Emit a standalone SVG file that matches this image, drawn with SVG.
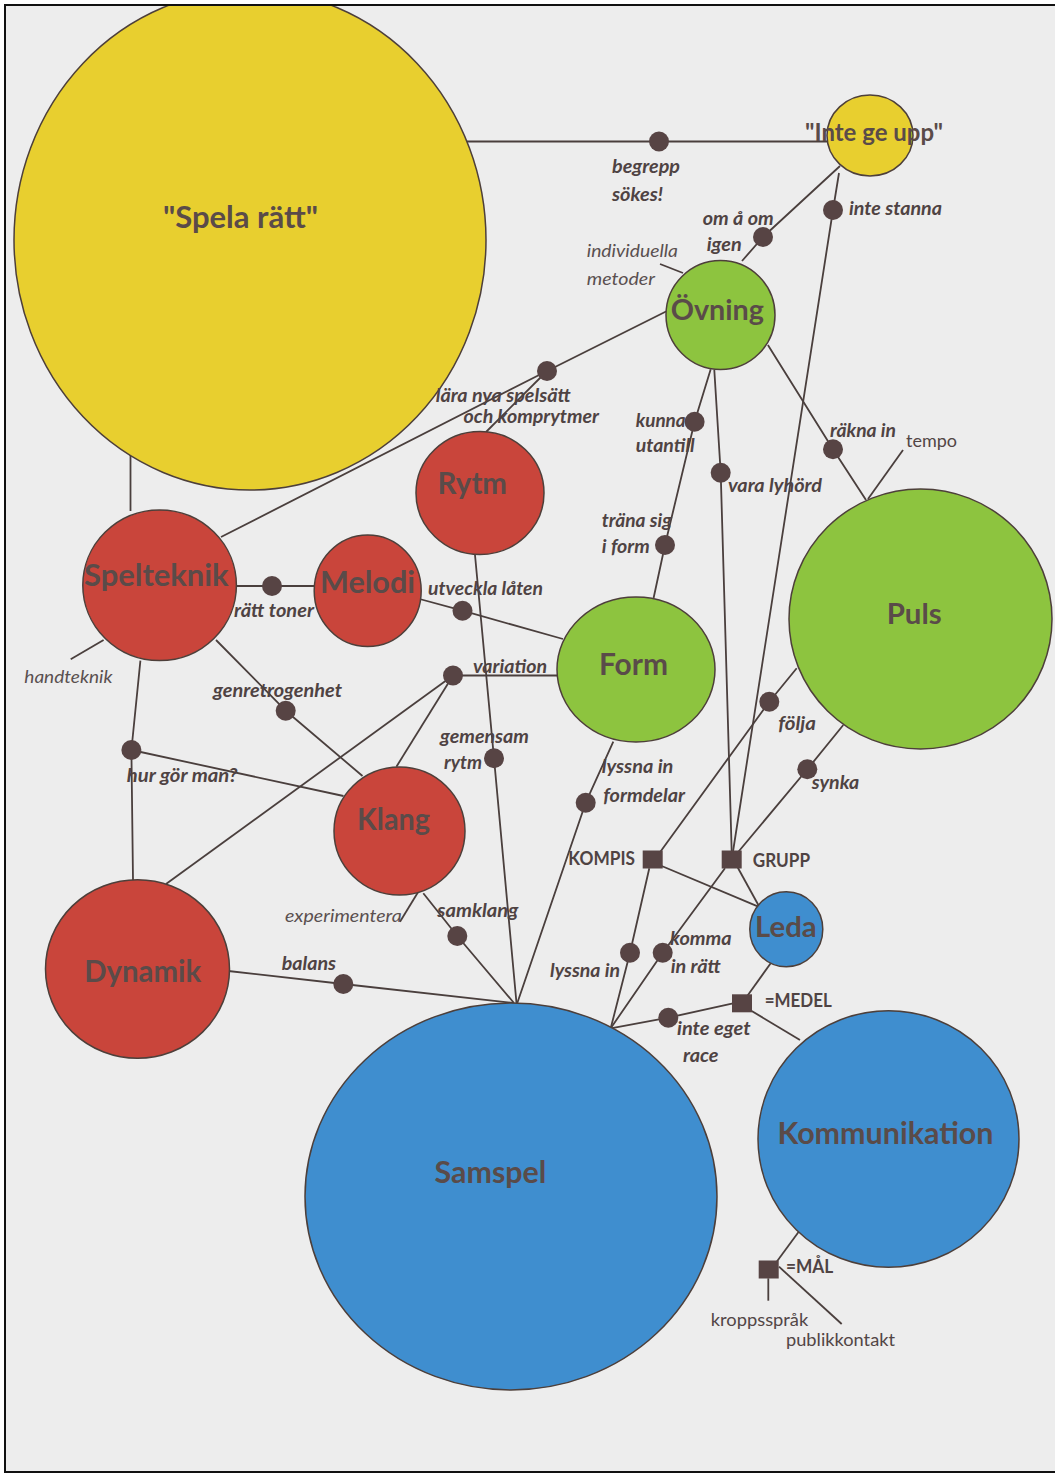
<svg xmlns="http://www.w3.org/2000/svg" width="1055" height="1477" viewBox="0 0 1055 1477">
<style>
.bg{fill:#ededed}
.frame{fill:none;stroke:#111;stroke-width:2}
.n{stroke:#4d3f3a;stroke-width:1.5}
.y{fill:#e8cf2f}
.r{fill:#c9453b}
.g{fill:#8dc43f}
.b{fill:#3f8ecf}
.nl{font-family:Lato,"Liberation Sans",sans-serif;font-weight:700;fill:#5a4b49}
.c{fill:none;stroke:#4a3f3d;stroke-width:1.8;stroke-linejoin:round}
.d{fill:#574444}
.sq{fill:#574444}
.bi{font-family:Lato,"Liberation Sans",sans-serif;font-weight:700;font-style:italic;font-size:18px;fill:#4f4343}
.ri{font-family:Lato,"Liberation Sans",sans-serif;font-style:italic;font-size:18px;fill:#5a5050}
.rg{font-family:Lato,"Liberation Sans",sans-serif;font-size:18px;fill:#524646}
.bu{font-family:Lato,"Liberation Sans",sans-serif;font-weight:700;font-size:18px;fill:#4f4343}
</style>
<defs>
<clipPath id="fr"><rect x="5" y="5" width="1052" height="1467"/></clipPath>
</defs>
<rect width="1055" height="1477" fill="#ffffff"/>
<rect class="bg" x="5" y="5" width="1052" height="1467"/>
<g clip-path="url(#fr)">
<g id="connectors">
<polyline class="c" points="467,141.5 827,141.5"/>
<polyline class="c" points="840,166 763,237 742,261"/>
<polyline class="c" points="839,173 833,210 732,858"/>
<polyline class="c" points="669,310 547,371 221,537"/>
<polyline class="c" points="547,371 486,432"/>
<polyline class="c" points="683,273 660,264"/>
<polyline class="c" points="130.5,455 130.5,511"/>
<polyline class="c" points="236,586 272,586 314,586"/>
<polyline class="c" points="103.6,640 70.7,659.3"/>
<polyline class="c" points="216,640 285.7,710.7 362.5,776"/>
<polyline class="c" points="140.4,660.7 131.4,750 133,880"/>
<polyline class="c" points="131.4,750 343.5,796"/>
<polyline class="c" points="419.6,599 462.5,610.7 563,639"/>
<polyline class="c" points="475,555 494,758.3 516.5,1003"/>
<polyline class="c" points="557,675.5 453,675.5"/>
<polyline class="c" points="453,675.5 396.4,766.7"/>
<polyline class="c" points="453,675.5 166,884"/>
<polyline class="c" points="613.3,741.7 585.7,802.7 517.3,1003"/>
<polyline class="c" points="653.6,598 665,545 694.6,421.7 710.7,369.3"/>
<polyline class="c" points="714.3,370 720.7,472.7 731.7,852"/>
<polyline class="c" points="767.9,345 833,449.3 866,500"/>
<polyline class="c" points="868,499 903,450"/>
<polyline class="c" points="796.7,668.3 769.3,701.7 658,855"/>
<polyline class="c" points="843.3,725 807.3,769.3 734,857"/>
<polyline class="c" points="661.7,866 758.3,906.7"/>
<polyline class="c" points="737.3,866.7 759.3,906.7"/>
<polyline class="c" points="649.3,868.3 630,952.7 610.7,1028.3"/>
<polyline class="c" points="725,868.3 662.7,952.7 610.7,1028.3"/>
<polyline class="c" points="770.7,963.3 746.7,996.7"/>
<polyline class="c" points="750,1010 800,1040"/>
<polyline class="c" points="733,1003.3 668.3,1017.7 610.7,1028.3"/>
<polyline class="c" points="228.3,971 343.3,984 513.3,1003"/>
<polyline class="c" points="423.3,893.3 457.3,936 514,1003"/>
<polyline class="c" points="418.3,891.7 400,921.7"/>
<polyline class="c" points="800,1230 776.7,1261.7"/>
<polyline class="c" points="768.3,1278.3 768.3,1300.7"/>
<polyline class="c" points="779,1266.7 841.7,1324"/>
</g>
<g id="spela-ratt"><ellipse class="n y" cx="250" cy="240" rx="236" ry="250"/><text class="nl" x="163" y="228.3" font-size="30" textLength="155" lengthAdjust="spacingAndGlyphs">"Spela rätt"</text></g>
<g id="inte-ge-upp"><ellipse class="n y" cx="870" cy="135.5" rx="43" ry="40.5"/><text class="nl" x="805" y="140.7" font-size="24" textLength="138" lengthAdjust="spacingAndGlyphs">"Inte ge upp"</text></g>
<g id="ovning"><ellipse class="n g" cx="720.5" cy="315" rx="54.5" ry="54.5"/><text class="nl" x="670.7" y="320" font-size="29" textLength="93.3" lengthAdjust="spacingAndGlyphs">Övning</text></g>
<g id="rytm"><ellipse class="n r" cx="480" cy="493" rx="64" ry="61.5"/><text class="nl" x="437.5" y="494" font-size="30" textLength="69.5" lengthAdjust="spacingAndGlyphs">Rytm</text></g>
<g id="spelteknik"><ellipse class="n r" cx="159.6" cy="585.3" rx="76.8" ry="75.3"/><text class="nl" x="84" y="586" font-size="31" textLength="144.6" lengthAdjust="spacingAndGlyphs">Spelteknik</text></g>
<g id="melodi"><ellipse class="n r" cx="367.7" cy="590.8" rx="53.5" ry="55.8"/><text class="nl" x="320" y="593.3" font-size="31" textLength="95" lengthAdjust="spacingAndGlyphs">Melodi</text></g>
<g id="form"><ellipse class="n g" cx="636" cy="669.5" rx="79" ry="72.5"/><text class="nl" x="599" y="675" font-size="30" textLength="69" lengthAdjust="spacingAndGlyphs">Form</text></g>
<g id="puls"><ellipse class="n g" cx="920.5" cy="619" rx="131.5" ry="130"/><text class="nl" x="886.7" y="624" font-size="29" textLength="55" lengthAdjust="spacingAndGlyphs">Puls</text></g>
<g id="klang"><ellipse class="n r" cx="399.5" cy="831" rx="65.5" ry="64"/><text class="nl" x="357" y="830" font-size="29.5" textLength="73" lengthAdjust="spacingAndGlyphs">Klang</text></g>
<g id="dynamik"><ellipse class="n r" cx="137.5" cy="969" rx="92" ry="89.3"/><text class="nl" x="84.2" y="981.7" font-size="30" textLength="117" lengthAdjust="spacingAndGlyphs">Dynamik</text></g>
<g id="leda"><ellipse class="n b" cx="786.3" cy="929.2" rx="36.5" ry="37.5"/><text class="nl" x="755" y="936.7" font-size="29" textLength="61.7" lengthAdjust="spacingAndGlyphs">Leda</text></g>
<g id="samspel"><ellipse class="n b" cx="511" cy="1196.5" rx="206" ry="193.5"/><text class="nl" x="434.6" y="1182.7" font-size="30" textLength="111.7" lengthAdjust="spacingAndGlyphs">Samspel</text></g>
<g id="kommunikation"><ellipse class="n b" cx="888.5" cy="1139" rx="130.5" ry="128.3"/><text class="nl" x="777.4" y="1144" font-size="30" textLength="216" lengthAdjust="spacingAndGlyphs">Kommunikation</text></g>
<g id="kompis"><rect class="sq" x="642.7" y="850.5" width="20" height="18"/><text class="bu" x="568.3" y="865" textLength="66.7" lengthAdjust="spacingAndGlyphs">KOMPIS</text></g>
<g id="grupp"><rect class="sq" x="721.7" y="850.5" width="20" height="18"/><text class="bu" x="752.7" y="866.7" textLength="57.3" lengthAdjust="spacingAndGlyphs">GRUPP</text></g>
<g id="medel"><rect class="sq" x="732" y="994.3" width="20" height="18"/><text class="bu" x="764.7" y="1006.5" textLength="67" lengthAdjust="spacingAndGlyphs">=MEDEL</text></g>
<g id="mal"><rect class="sq" x="758.7" y="1260.5" width="20" height="18"/><text class="bu" x="786" y="1272.7" textLength="47.3" lengthAdjust="spacingAndGlyphs">=MÅL</text></g>
<g id="dots">
<circle class="d" cx="659" cy="141.5" r="10"/>
<circle class="d" cx="763" cy="237" r="10"/>
<circle class="d" cx="833" cy="210" r="10"/>
<circle class="d" cx="547" cy="371" r="10"/>
<circle class="d" cx="272" cy="586" r="10"/>
<circle class="d" cx="285.7" cy="710.7" r="10"/>
<circle class="d" cx="131.4" cy="750" r="10"/>
<circle class="d" cx="462.5" cy="610.7" r="10"/>
<circle class="d" cx="494" cy="758.3" r="10"/>
<circle class="d" cx="453" cy="675.5" r="10"/>
<circle class="d" cx="585.7" cy="802.7" r="10"/>
<circle class="d" cx="665" cy="545" r="10"/>
<circle class="d" cx="694.6" cy="421.7" r="10"/>
<circle class="d" cx="720.7" cy="472.7" r="10"/>
<circle class="d" cx="833" cy="449.3" r="10"/>
<circle class="d" cx="769.3" cy="701.7" r="10"/>
<circle class="d" cx="807.3" cy="769.3" r="10"/>
<circle class="d" cx="630" cy="952.7" r="10"/>
<circle class="d" cx="662.7" cy="952.7" r="10"/>
<circle class="d" cx="668.3" cy="1017.7" r="10"/>
<circle class="d" cx="343.3" cy="984" r="10"/>
<circle class="d" cx="457.3" cy="936" r="10"/>
</g>
<g id="labels">
<text class="bi" x="612" y="173" textLength="68" lengthAdjust="spacingAndGlyphs">begrepp</text>
<text class="bi" x="612" y="201" textLength="51" lengthAdjust="spacingAndGlyphs">sökes!</text>
<text class="bi" x="702.7" y="225" textLength="71" lengthAdjust="spacingAndGlyphs">om å om</text>
<text class="bi" x="706.7" y="251" textLength="35" lengthAdjust="spacingAndGlyphs">igen</text>
<text class="bi" x="849" y="215" textLength="93" lengthAdjust="spacingAndGlyphs">inte stanna</text>
<text class="bi" x="435.7" y="401.7" textLength="135" lengthAdjust="spacingAndGlyphs">lära nya spelsätt</text>
<text class="bi" x="463.6" y="423.3" textLength="135.4" lengthAdjust="spacingAndGlyphs">och komprytmer</text>
<text class="bi" x="635.7" y="427.3" textLength="50" lengthAdjust="spacingAndGlyphs">kunna</text>
<text class="bi" x="635.7" y="451.7" textLength="59" lengthAdjust="spacingAndGlyphs">utantill</text>
<text class="bi" x="728" y="491.7" textLength="94" lengthAdjust="spacingAndGlyphs">vara lyhörd</text>
<text class="bi" x="830" y="436.7" textLength="66" lengthAdjust="spacingAndGlyphs">räkna in</text>
<text class="bi" x="601.8" y="526.7" textLength="70" lengthAdjust="spacingAndGlyphs">träna sig</text>
<text class="bi" x="601.8" y="553.3" textLength="48" lengthAdjust="spacingAndGlyphs">i form</text>
<text class="bi" x="428" y="595" textLength="115" lengthAdjust="spacingAndGlyphs">utveckla låten</text>
<text class="bi" x="234" y="617.3" textLength="80" lengthAdjust="spacingAndGlyphs">rätt toner</text>
<text class="bi" x="213" y="696.7" textLength="129" lengthAdjust="spacingAndGlyphs">genretrogenhet</text>
<text class="bi" x="126.8" y="781.7" textLength="110.7" lengthAdjust="spacingAndGlyphs">hur gör man?</text>
<text class="bi" x="473" y="673.3" textLength="74" lengthAdjust="spacingAndGlyphs">variation</text>
<text class="bi" x="440" y="742.7" textLength="89" lengthAdjust="spacingAndGlyphs">gemensam</text>
<text class="bi" x="444" y="769.3" textLength="38" lengthAdjust="spacingAndGlyphs">rytm</text>
<text class="bi" x="601.7" y="773.3" textLength="71.6" lengthAdjust="spacingAndGlyphs">lyssna in</text>
<text class="bi" x="603.3" y="801.7" textLength="81.7" lengthAdjust="spacingAndGlyphs">formdelar</text>
<text class="bi" x="778.3" y="730" textLength="37.7" lengthAdjust="spacingAndGlyphs">följa</text>
<text class="bi" x="811.7" y="789.3" textLength="47.6" lengthAdjust="spacingAndGlyphs">synka</text>
<text class="bi" x="437.3" y="916.7" textLength="81" lengthAdjust="spacingAndGlyphs">samklang</text>
<text class="bi" x="281.7" y="970" textLength="54.3" lengthAdjust="spacingAndGlyphs">balans</text>
<text class="bi" x="550" y="976.7" textLength="70" lengthAdjust="spacingAndGlyphs">lyssna in</text>
<text class="bi" x="670" y="945" textLength="61.7" lengthAdjust="spacingAndGlyphs">komma</text>
<text class="bi" x="670.7" y="972.7" textLength="50" lengthAdjust="spacingAndGlyphs">in rätt</text>
<text class="bi" x="677" y="1035" textLength="73.5" lengthAdjust="spacingAndGlyphs">inte eget</text>
<text class="bi" x="683" y="1062" textLength="35.5" lengthAdjust="spacingAndGlyphs">race</text>
<text class="ri" x="586.7" y="256.7" textLength="91.3" lengthAdjust="spacingAndGlyphs">individuella</text>
<text class="ri" x="586.7" y="285" textLength="68.3" lengthAdjust="spacingAndGlyphs">metoder</text>
<text class="ri" x="24.3" y="682.7" textLength="88.2" lengthAdjust="spacingAndGlyphs" fill="#4f4343">handteknik</text>
<text class="ri" x="285" y="921.7" textLength="116.7" lengthAdjust="spacingAndGlyphs">experimentera</text>
<text class="rg" x="906" y="447" textLength="51" lengthAdjust="spacingAndGlyphs">tempo</text>
<text class="rg" x="710.7" y="1326" textLength="97.6" lengthAdjust="spacingAndGlyphs">kroppsspråk</text>
<text class="rg" x="786" y="1346" textLength="109" lengthAdjust="spacingAndGlyphs">publikkontakt</text>
</g>
</g>
<path class="frame" d="M1057,5 H5 V1472 H1057"/>
</svg>
